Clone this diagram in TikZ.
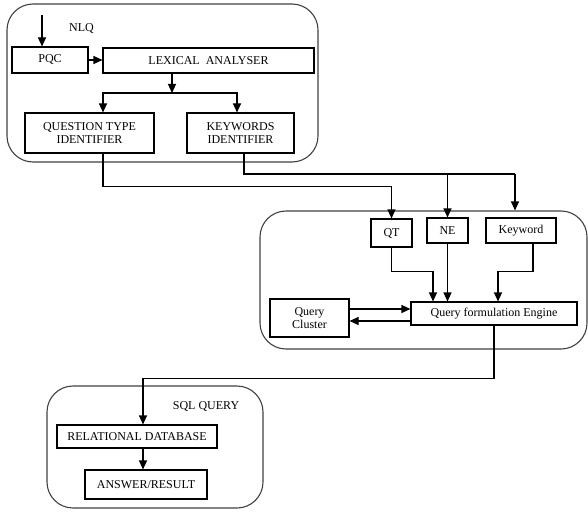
\documentclass[tikz,border=0pt]{standalone}
\usepackage{fontspec}
\setmainfont{Liberation Serif}
\usetikzlibrary{arrows.meta}

\begin{document}
\begin{tikzpicture}[x=1pt,y=-1pt,line width=1.1pt,
  font=\fontsize{12}{13.5}\selectfont,
  box/.style={draw=black,rectangle,inner sep=0pt,align=center},
  group/.style={draw=black!75,rectangle,rounded corners=26pt,inner sep=0pt},
  lbl/.style={draw=none,inner sep=0pt},
  arr/.style={-{Triangle[length=9pt,width=8pt]}}]
  \useasboundingbox (0,0) rectangle (588,516);

  % Grupos
  \node[group,minimum width=311,minimum height=158] (g1) at (162.5,83) {};
  \node[group,minimum width=327,minimum height=138] (g2) at (423.5,280) {};
  \node[group,minimum width=216,minimum height=122] (g3) at (155,447) {};

  % Cajas NLQ
  \node[box,minimum width=76,minimum height=26] (pqc) at (50,60) {PQC};
  \node[box,minimum width=211,minimum height=25] (lex) at (208.5,60.5) {LEXICAL\ \ ANALYSER};
  \node[box,minimum width=129,minimum height=40] (qti) at (89.5,133) {QUESTION TYPE\\IDENTIFIER};
  \node[box,minimum width=107,minimum height=40] (ki) at (240.5,133) {KEYWORDS\\IDENTIFIER};
  \node[lbl] (nlq) at (81.5,29) {NLQ};

  % Cajas consulta
  \node[box,minimum width=41,minimum height=28] (qt) at (391.5,233) {QT};
  \node[box,minimum width=41,minimum height=25] (ne) at (447.5,230.5) {NE};
  \node[box,minimum width=70,minimum height=25] (kw) at (521,230.5) {Keyword};
  \node[box,minimum width=166,minimum height=23] (qfe) at (494,313.5) {Query formulation Engine};
  \node[box,minimum width=79,minimum height=38] (qc) at (309.5,318) {Query\\Cluster};

  % Cajas SQL
  \node[box,minimum width=160,minimum height=23] (rd) at (137,436.5) {RELATIONAL DATABASE};
  \node[box,minimum width=122,minimum height=29] (ar) at (146,484.5) {ANSWER/RESULT};
  \node[lbl] (sql) at (206,406) {SQL QUERY};

  % Flechas NLQ
  \coordinate (in) at (42,15);
  \coordinate (s1) at (172,93);
  \draw[arr] (in) -- (in |- pqc.north);
  \draw[arr] (pqc.east) -- (pqc.east -| lex.west);
  \draw[arr] (s1 |- lex.south) -- (s1);
  \draw[arr] (s1) -| ([xshift=13.5pt]qti.north);
  \draw[arr] (s1) -| ([xshift=-3.5pt]ki.north);

  % Flechas hacia la consulta
  \coordinate (kb) at (515,174);
  \draw[arr] ([xshift=13.5pt]qti.south) -- ++(0,33) -| (qt.north);
  \draw ([xshift=3.5pt]ki.south) |- (kb);
  \draw[arr] (ne.north |- kb) -- (ne.north);
  \draw[arr] (kb) -- (kb |- g2.north);

  % Flechas dentro de la consulta
  \draw[arr] (qt.south) -- ++(0,24) -| ([xshift=-61pt]qfe.north);
  \draw[arr] (ne.south) -- (ne.south |- qfe.north);
  \draw[arr] ([xshift=12pt]kw.south) -- ++(0,28) -| ([xshift=4pt]qfe.north);
  \draw[arr] ([yshift=9pt]qc.east) -- ([yshift=4.5pt]qfe.west);
  \draw[arr] ([yshift=-7.5pt]qfe.west) -- ([yshift=-3pt]qc.east);

  % Flechas SQL
  \draw[arr] (qfe.south) -- ++(0,53) -| ([xshift=6pt]rd.north);
  \draw[arr] ([xshift=6pt]rd.south) -- ([xshift=6pt]rd.south |- ar.north);
\end{tikzpicture}
\end{document}
